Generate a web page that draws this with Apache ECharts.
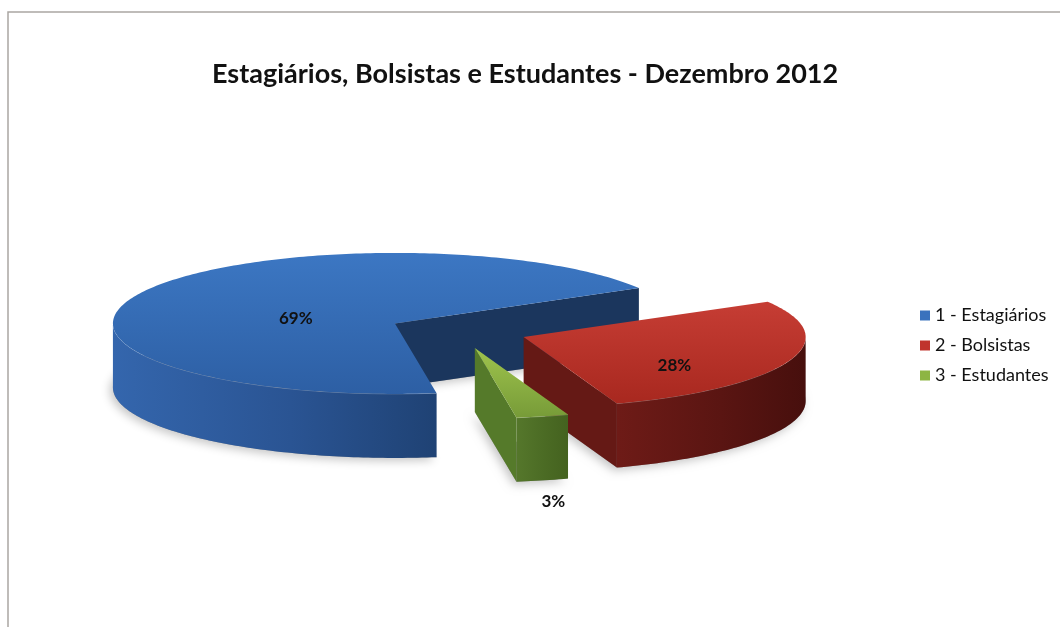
<!DOCTYPE html>
<html>
<head>
<meta charset="utf-8">
<script src="https://cdn.jsdelivr.net/npm/echarts@6/dist/echarts.min.js"></script>
<style>
  html, body { margin: 0; padding: 0; background: #ffffff; }
  #chart { width: 1060px; height: 627px; }
</style>
</head>
<body>
<div id="chart"></div>
<script>
// Chart data
const categories = ['1 - Estagiários', '2 - Bolsistas', '3 - Estudantes'];
const shares = [69, 28, 3];
const titleText = 'Estagiários, Bolsistas e Estudantes - Dezembro 2012';

// Shading for each slice: top face gradient, outer wall gradient, cut face
const palette = [
  { top: ['#3c77c3', '#2d5fa4'], wall: ['#3466ad', '#2a5493', '#1f4274'], face: '#1b365d', key: '#3a72bd' },
  { top: ['#c63d34', '#a8281f'], wall: ['#6e1b17', '#5a1512', '#470f0d'], face: '#651915', key: '#c0342d' },
  { top: ['#9fc44d', '#779b38'], wall: ['#55772b', '#4b6b24', '#44621f'], face: '#557a2a', key: '#8db543' }
];

// Where each percentage label sits: fraction of radius along the slice bisector, extra drop in px
const labelPlacement = [
  { radius: 0.39, drop: 7 },
  { radius: 0.57, drop: 15 },
  { radius: 1.16, drop: 74 }
];

// 3D pie geometry (pixels); angles are clockwise from 12 o'clock in the top view
const pie = { cx: 458, cy: 331, r: 282, tilt: 0.25, depth: 64, explode: 70, start: 171.5 };

const total = shares.reduce((a, b) => a + b, 0);
const rad = d => d * Math.PI / 180;

function point(c, th, r, z) {
  return [c[0] + r * Math.sin(rad(th)), c[1] - r * Math.cos(rad(th)) * pie.tilt + z];
}
function arc(c, a, b, z) {
  const n = Math.max(2, Math.ceil(Math.abs(b - a)));
  const pts = [];
  for (let s = 0; s <= n; s++) pts.push(point(c, a + (b - a) * s / n, pie.r, z));
  return pts;
}
function facesViewer(normal) {
  const n = ((normal % 360) + 360) % 360;
  return n > 90 && n < 270;
}

function makeRenderer(idx) {
  return function (params, api) {
    let a = pie.start;
    for (let j = 0; j < idx; j++) a += shares[j] / total * 360;
    const b = a + api.value(0) / total * 360;
    const mid = (a + b) / 2;
    const c = [pie.cx + pie.explode * Math.sin(rad(mid)),
               pie.cy - pie.explode * Math.cos(rad(mid)) * pie.tilt];
    const h = pie.depth;
    const col = palette[idx];
    const children = [];

    // soft shadow under the slice
    children.push({
      type: 'polygon',
      shape: { points: [[c[0], c[1] + h]].concat(arc(c, a, b, h)) },
      style: { fill: 'rgba(90,90,90,0.5)', shadowBlur: 10, shadowColor: 'rgba(0,0,0,0.45)', shadowOffsetX: -3, shadowOffsetY: 3 }
    });

    // radial cut faces turned toward the viewer
    [[a, a - 90], [b, b + 90]].forEach(([th, normal]) => {
      if (!facesViewer(normal)) return;
      const rt = point(c, th, pie.r, 0);
      const rb = point(c, th, pie.r, h);
      children.push({
        type: 'polygon',
        shape: { points: [[c[0], c[1]], rt, rb, [c[0], c[1] + h]] },
        style: { fill: col.face }
      });
    });

    // outer curved wall, front half only
    [-360, 0, 360, 720].forEach(off => {
      const s = Math.max(a, 90 + off), e = Math.min(b, 270 + off);
      if (e <= s) return;
      const topArc = arc(c, s, e, 0);
      const botArc = arc(c, e, s, h);
      children.push({
        type: 'polygon',
        shape: { points: topArc.concat(botArc) },
        style: {
          fill: new echarts.graphic.LinearGradient(0, 0, 1, 0, [
            { offset: 0, color: col.wall[0] },
            { offset: 0.55, color: col.wall[1] },
            { offset: 1, color: col.wall[2] }
          ])
        }
      });
      children.push({
        type: 'polyline',
        shape: { points: topArc },
        style: { fill: null, stroke: 'rgba(255,255,255,0.22)', lineWidth: 1 }
      });
    });

    // top face
    children.push({
      type: 'polygon',
      shape: { points: [[c[0], c[1]]].concat(arc(c, a, b, 0)) },
      style: {
        fill: new echarts.graphic.LinearGradient(0, 0, 0, 1, [
          { offset: 0, color: col.top[0] },
          { offset: 1, color: col.top[1] }
        ])
      }
    });

    // percentage label
    const lp = labelPlacement[idx];
    const lpt = point(c, mid, pie.r * lp.radius, lp.drop);
    children.push({
      type: 'text',
      style: {
        text: Math.round(api.value(0) / total * 100) + '%',
        x: lpt[0], y: lpt[1],
        align: 'center', verticalAlign: 'middle',
        fill: '#111111',
        font: 'bold 17px Lato'
      }
    });

    return { type: 'group', children: children };
  };
}

const chart = echarts.init(document.getElementById('chart'), null, { renderer: 'canvas' });
chart.setOption({
  animation: false,
  backgroundColor: '#ffffff',
  title: {
    text: titleText,
    left: 212,
    top: 61,
    padding: 0,
    textStyle: { fontFamily: 'Lato', fontWeight: 'bold', fontSize: 27, color: '#111111' }
  },
  legend: {
    orient: 'vertical',
    left: 920,
    top: 306,
    padding: 0,
    icon: 'rect',
    itemWidth: 10,
    itemHeight: 10,
    itemGap: 11,
    data: categories,
    textStyle: { fontFamily: 'Lato', fontSize: 18, color: '#111111', lineHeight: 19 }
  },
  graphic: [{
    type: 'rect',
    shape: { x: 8, y: 12, width: 1200, height: 800 },
    style: { fill: null, stroke: '#aaa6a2', lineWidth: 1.5 },
    silent: true
  }],
  series: categories.map((name, i) => ({
    type: 'custom',
    name: name,
    coordinateSystem: 'none',
    silent: true,
    itemStyle: { color: palette[i].key },
    renderItem: makeRenderer(i),
    data: [[shares[i]]]
  }))
});
</script>
</body>
</html>
